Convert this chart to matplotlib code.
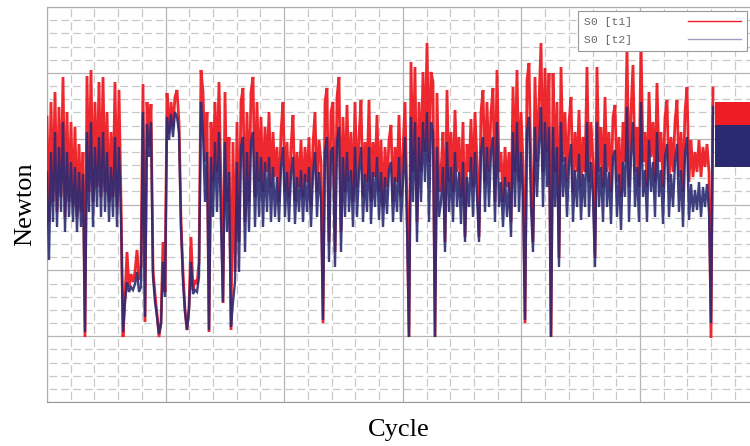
import matplotlib
matplotlib.use("Agg")
import numpy as np
import matplotlib.pyplot as plt
from matplotlib.ticker import MultipleLocator
from matplotlib.lines import Line2D

plt.rcParams['lines.scale_dashes'] = False

# ---- data (arbitrary Newton units, one sample per cycle step) ----
t1_a = [285,180,300,200,310,190,295,205,325,185, 290,200,280,195,275,185,258,190,250,65,
        326,210,332,200,300,215,320,205,325,210, 290,200,270,205,320,195,312,200]
t1_b = [65,105,150,115,128,120,130,152,122,135, 318,80,300,255,298,132,108,88,65,80,
        160,110,309,268,300,275,305,312,280,180, 130,92,72,95,165,112,122,118,140,332]
t1_c = [310,240,290,70,280,220,300,230,320,215, 99,310,200,265,72,260,130,280,160,300,
        314,180,290,200,310,325,205,300,220,285, 210,275,230,290,215,270,225]
t1_d = [255,200,270,300,210,260,205,255,287,200, 250,215,262,205,255,220,265,195,258,290,
        210,262,240,79,300,314,160,290,300,150, 305,325,170,285,210,297,220,270,200,300,
        215,265,302,205,260,220,302,200,260,225, 287,210,262,195,255,215,262,277,200,255,
        220,287,205]
t1_e = [250,300,200,65,340,230,335,180,300,230, 330,250,359,240,330,320,65,309,210]
t1_f = [230,270,160,312,220,270,210,292,230,265, 205,280,165,258,230,283,215,290,240,165,
        290,312,220,300,230,290,314,200,332,230]
t1_g = [250,200,255,215,250,180,315,230,332,220, 290,240,79,322,339,230,160,325,240,300,
        359,230,334,250,329,65,329,230,300,144, 335,240,290,220,280,305,210,270,230,292,
        215,265,230,335,220,280,240,144,335,230, 275,215,305,230,270,210,285,297,220,265,
        205,280,240,355,215,290,337,230,275,215, 362,240,270,215,310,245,280,220,319,240,
        270,215,285,302,220,265,230,280,302,225, 270,210,290,315,220]
t1_h = [262,225,250,230,262,225,255,235,258,230,64,314]

t2_a = [230,142,250,180,270,175,255,190,280,170, 250,185,240,180,235,170,230,175,228,70,
        270,190,280,175,255,195,265,185,270,190, 250,180,235,185,265,175,255,185]
t2_b = [70,100,120,110,115,112,118,130,110,115, 290,85,278,245,280,125,100,85,68,78,
        140,105,285,262,288,265,290,285,270,175, 120,90,72,92,140,108,112,110,125,300]
t2_c = [270,200,250,72,245,185,260,190,270,180, 100,260,170,230,75,100,120,240,130,255,
        265,150,250,170,260,270,175,250,185,245, 175,240,190,245,180,235,185]
t2_d = [225,180,235,255,185,230,180,228,245,178, 225,190,232,180,228,190,235,175,228,250,
        185,230,200,82,250,265,140,250,255,135, 260,275,150,245,185,250,190,232,175,255,
        185,230,255,180,228,190,255,178,230,195, 245,182,230,175,225,188,232,240,180,225,
        190,245,180]
t2_e = [220,265,175,65,285,200,280,160,265,200, 280,220,290,180,280,270,65,255,185]
t2_f = [200,235,150,260,190,235,180,250,195,230, 178,240,160,225,195,245,185,250,205,160,
        250,265,190,255,195,250,265,180,280,195]
t2_g = [220,175,225,185,220,165,270,195,280,190, 250,205,82,270,285,195,150,275,205,255,
        295,195,280,215,275,65,275,195,255,135, 280,205,245,185,238,258,180,232,195,248,
        182,228,195,280,185,240,205,135,280,195, 235,180,258,195,230,178,245,252,185,228,
        172,240,205,295,180,245,280,195,235,180, 300,205,232,180,262,210,240,185,270,205,
        232,178,245,258,185,228,195,240,258,190, 232,175,248,265,182]
t2_h = [218,190,212,192,220,185,215,195,218,190,79,295]

t1 = t1_a + t1_b + t1_c + t1_d + t1_e + t1_f + t1_g + t1_h
t2 = t2_a + t2_b + t2_c + t2_d + t2_e + t2_f + t2_g + t2_h

# final dense oscillation band (low, high)
t1_tail = [235, 300]
t2_tail = [235, 277]

labels = ['S0 [t1]', 'S0 [t2]']

RED = '#ee1c24'
BLUE = '#2a2a72'

fig = plt.figure(figsize=(7.5, 4.46), dpi=100)
ax = fig.add_axes([47/750, 44/446, 703/750, 395/446])

x1 = np.arange(len(t1))
x2 = np.arange(len(t2))
ax.plot(x1, t1, color=RED, lw=2.0, alpha=0.95, zorder=3, solid_joinstyle='miter')
ax.plot(x2, t2, color=BLUE, lw=1.7, alpha=0.9, zorder=4, solid_joinstyle='miter')
tail_x = [len(t1), len(t1) + 30]
ax.fill_between(tail_x, t1_tail[0], t1_tail[1], color=RED, lw=0, zorder=3)
ax.fill_between(tail_x, t2_tail[0], t2_tail[1], color=BLUE, lw=0, zorder=4)

ax.set_xlim(0, 351.5)
ax.set_ylim(0, 395)

ax.xaxis.set_major_locator(MultipleLocator(59.3))
ax.xaxis.set_minor_locator(MultipleLocator(59.3/5))
ax.yaxis.set_major_locator(MultipleLocator(395/6))
ax.yaxis.set_minor_locator(MultipleLocator(395/30))

ax.set_axisbelow(True)
ax.grid(which='major', color='#b5b5b5', lw=0.9, ls='-')
ax.xaxis.grid(True, which='minor', color='#c8c8c8', lw=0.9, ls=(7.6, (5.8, 3.7)))
ax.yaxis.grid(True, which='minor', color='#c8c8c8', lw=0.9, ls=(7.0, (5.5, 3.0)))

ax.tick_params(which='both', length=0, labelbottom=False, labelleft=False)
ax.spines['right'].set_visible(False)
for s in ['left', 'top']:
    ax.spines[s].set_color('#aaaaaa')
ax.spines['bottom'].set_color('#999999')

ax.set_xlabel('Cycle', fontsize=19, family='Liberation Serif', labelpad=12)
ax.set_ylabel('Newton', fontsize=19, family='Liberation Serif', labelpad=8)

handles = [Line2D([], [], color=RED, lw=1.0),
           Line2D([], [], color=BLUE, lw=1.0, alpha=0.45)]
leg = ax.legend(handles, labels, loc='upper right',
                bbox_to_anchor=(747/750, 1 - 11/446), bbox_transform=fig.transFigure,
                borderaxespad=0, markerfirst=False,
                prop={'family': 'Liberation Mono', 'size': 8.2},
                handlelength=4.7, handletextpad=4.9, borderpad=0.5, labelspacing=0.75,
                fancybox=False, framealpha=1, edgecolor='#999999')
leg.get_frame().set_linewidth(0.8)
leg.set_zorder(10)
for t in leg.get_texts():
    t.set_color('#666666')

fig.savefig('out.png', dpi=100)
